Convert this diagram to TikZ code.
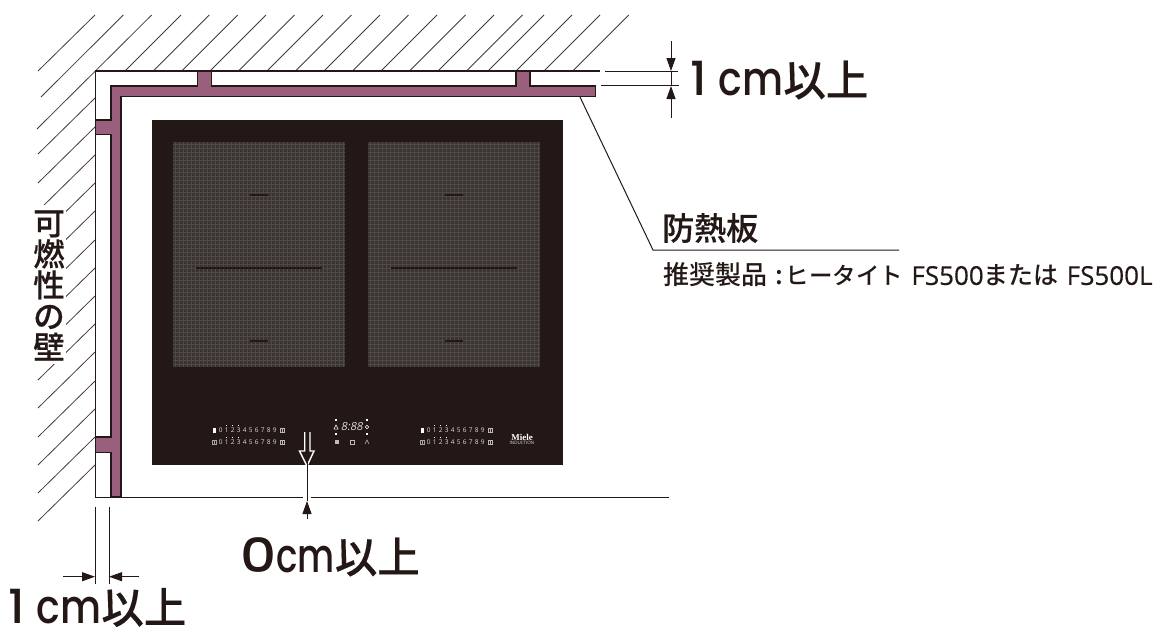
\documentclass[tikz,border=0pt]{standalone}
\usepackage{graphicx}
\usepackage{fontspec}
\setmainfont{Noto Sans CJK JP}
\newfontfamily\jpf{Noto Sans CJK JP}
\newfontfamily\jpm{Noto Sans CJK JP Medium}
\newfontfamily\jph[FakeBold=0.35]{Noto Sans CJK JP Medium}
\newfontfamily\popf{Poppins Medium}
\newfontfamily\latf{Open Sans}
\newfontfamily\latb[FakeBold=0.4]{Open Sans}
\newfontfamily\serf{Liberation Serif}
\usetikzlibrary{arrows.meta}
\definecolor{ink}{HTML}{231815}
\definecolor{plum}{HTML}{9A5F7C}
\definecolor{glass}{HTML}{3A3431}
\definecolor{mesh}{HTML}{4F4A48}
\tikzset{
  hatch/.style={draw=ink!85,line width=0.8pt},
  wall/.style={draw=ink,line width=1.4pt},
  dim/.style={draw=ink,line width=1pt},
  solidtip/.style={-{Triangle[length=13pt,width=9pt]}},
  bigtext/.style={text=ink,inner sep=0pt,anchor=west},
  panel/.style={draw=ink,line width=1.8pt,fill=plum,line join=miter},
  tiny/.style={text=white!85!ink,inner sep=0pt,font=\latf\fontsize{6.5}{6.5}\selectfont},
}
% numeral with its x scale, gap, cm with its x scale, then the two kanji
\newcommand{\dimlabel}[4]{{\popf\fontsize{47}{47}\selectfont\scalebox{#2}[1]{#1}\hspace{#3}\scalebox{#4}[1]{cm}\jph\fontsize{42.5}{42.5}\selectfont 以上}}
\newcommand{\burnerrow}[1]{%
  \begin{scope}[shift={(#1,0)}]
    \foreach \k in {0,...,9}{
      \pgfmathtruncatemacro{\xx}{\k}
      \node[tiny] at ({220.7+6*\k},430) {\xx};
      \node[tiny] at ({220.7+6*\k},442) {\xx};
    }
    \foreach \k in {1,2,3}{
      \fill[white] ({220.7+6*\k-0.5},425) rectangle +(1,1.2);
      \fill[white] ({220.7+6*\k-0.5},437) rectangle +(1,1.2);
    }
    \foreach \y in {430,442}{
      \draw[white!70!ink,line width=0.5pt] (280.5,\y-2) rectangle (284,\y+2);
      \draw[white!70!ink,line width=0.5pt] (282.2,\y-2) -- (282.2,\y+2);
    }
    \fill[white] (212.5,428) rectangle (215.5,432.5);
    \draw[white!60!ink,line width=0.5pt] (212,440) rectangle (216,444);
    \draw[white!60!ink,line width=0.5pt] (214,440) -- (214,444);
  \end{scope}}
\begin{document}
\begin{tikzpicture}[x=1pt,y=-1pt]
\useasboundingbox (0,0) rectangle (1160,630);
% hatching
\foreach \a/\b/\c/\d in {95/15/38/71,123.3/15/41/97,151.7/15/37/129}
  \draw[hatch] (\a,\b) -- (\c,\d);
\foreach \t in {181,209.3,237.7,266,294.5,323,351.5,380,408.5,437,465.5,494,522.5,544,572,600,628.7}
  \draw[hatch] (\t,15) -- (\t-56,71);
\foreach \y in {98,127,155,183,211,240,268,296,324,352,381,409,437,465}
  \draw[hatch] (95,\y) -- (38,\y+56);
% wall
\coordinate (corner) at (95.5,71);
\draw[wall] (600,71) -- (corner) -- (95.5,497.5) -- (669,497.5);
% panel
\draw[panel] (111,497) -- (111,452.5) -- (95.5,452.5) -- (95.5,437) -- (111,437) -- (111,134.5) -- (95.5,134.5) -- (95.5,120) -- (111,120) -- (111,86) -- (197.5,86) -- (197.5,71) -- (211.5,71) -- (211.5,86) -- (516,86) -- (516,71) -- (530,71) -- (530,86) -- (595.5,86) -- (595.5,96.5) -- (121,96.5) -- (121,497) -- cycle;
% cooktop
\fill[ink] (152,120) rectangle (563,465);
\foreach \ox in {173,368}{
  \fill[glass] (\ox,142) rectangle (\ox+172,367);
  \foreach \i in {0,...,42} \draw[mesh,line width=0.9pt] (\ox+2+4*\i,142) -- (\ox+2+4*\i,367);
  \foreach \j in {0,...,55} \draw[mesh,line width=0.9pt] (\ox,144+4*\j) -- (\ox+172,144+4*\j);
  \draw[ink,line width=1.1pt] (\ox+77,195) -- (\ox+95,195);
  \draw[ink,line width=1.1pt] (\ox+23,268) -- (\ox+149,268);
  \draw[ink,line width=1.1pt] (\ox+77,341) -- (\ox+95,341);
}
\burnerrow{0}
\burnerrow{208}
\node[inner sep=0pt,text=white,font=\serf\bfseries\fontsize{9}{9}\selectfont] (miele) at (522,437) {Miele};
\node[tiny,font=\latf\fontsize{4.5}{4.5}\selectfont] (induct) at (522,442.5) {INDUCTION};
\node[tiny,xslant=0.2,font=\latf\fontsize{11}{11}\selectfont] (disp) at (352.5,427) {8:88};
\foreach \x/\y in {336/420,367/420,336/434,367/434} \fill[white] (\x-0.7,\y-0.7) rectangle +(1.4,1.4);
\draw[white,line width=0.5pt] (334,429) -- (336,425) -- (338,429) -- cycle;
\draw[white,line width=0.5pt] (367,427) circle (1.8);
\fill[white!70!ink] (335,440) rectangle (339,444);
\draw[white!70!ink,line width=0.5pt] (350,440) rectangle (354,444);
\draw[white!70!ink,line width=0.5pt] (365,444) -- (367,440) -- (369,444);
% 0 cm dimension
\fill[white] (303,490) rectangle (310.5,500);
\draw[white,line width=1.4pt] (304.7,432) -- (304.7,451) -- (299.5,451) -- (307,466) -- (314,451) -- (310,451) -- (310,432);
\coordinate (zeroA) at (307,453);
\coordinate (zeroB) at (307,501);
\coordinate (zeroC) at (307,519);
\draw[ink,line width=1pt] (zeroA) -- (zeroB);
\draw[dim,solidtip] (zeroC) -- (zeroB);
\node[bigtext] (zero) at (240,557) {\dimlabel{0}{1.2}{0pt}{0.76}};
% 1 cm top dimension
\draw[wall,line width=1pt] (605,71) -- (678,71);
\draw[wall,line width=1pt] (601,85.7) -- (679,85.7);
\coordinate (ta) at (671,41); \coordinate (tb) at (671,118);
\coordinate (tc) at (671,71); \coordinate (td) at (671,86);
\draw[dim,solidtip] (ta) -- (tc);
\draw[dim] (tc) -- (td);
\draw[dim,solidtip] (tb) -- (td);
\node[bigtext] (topl) at (690,80) {\dimlabel{1}{1}{12pt}{0.84}};
% 1 cm bottom dimension
\coordinate (va1) at (95,507); \coordinate (va2) at (95,584);
\coordinate (vb1) at (109,507); \coordinate (vb2) at (109,584);
\draw[dim] (va1) -- (va2);
\draw[dim] (vb1) -- (vb2);
\coordinate (la) at (63,576.7); \coordinate (lb) at (139,576.7);
\coordinate (lc) at (95,576.7); \coordinate (ld) at (109,576.7);
\draw[dim,solidtip] (la) -- (lc);
\draw[dim,solidtip] (lb) -- (ld);
\node[bigtext] (bot) at (8,607.5) {\dimlabel{1}{1}{12pt}{0.84}};
% leader
\coordinate (l0) at (580,97); \coordinate (l1) at (653,250); \coordinate (l2) at (899,250);
\draw[ink,line width=1pt] (l0) -- (l1) -- (l2);
\node[bigtext,font=\jph\fontsize{32}{32}\selectfont] (bou) at (662,228) {防熱板};
\node[bigtext,font=\jpm\fontsize{26}{26}\selectfont] (rec) at (663,275) {推奨製品\hspace{8pt}:\hspace{3pt}\fontsize{23.5}{23.5}\selectfont ヒータイト\hspace{8pt}\latb\fontsize{26}{26}\selectfont FS500\jpm\fontsize{25}{25}\selectfont または\hspace{8pt}\latb\fontsize{26}{26}\selectfont FS500L};
% vertical wall label
\fill[white] (31,205) rectangle (66,364);
\node[inner sep=0pt,text=ink,align=center,font=\jph\fontsize{31.5}{31}\selectfont] (lab) at (49,285.5) {可\\燃\\性\\の\\壁};
\end{tikzpicture}
\end{document}
